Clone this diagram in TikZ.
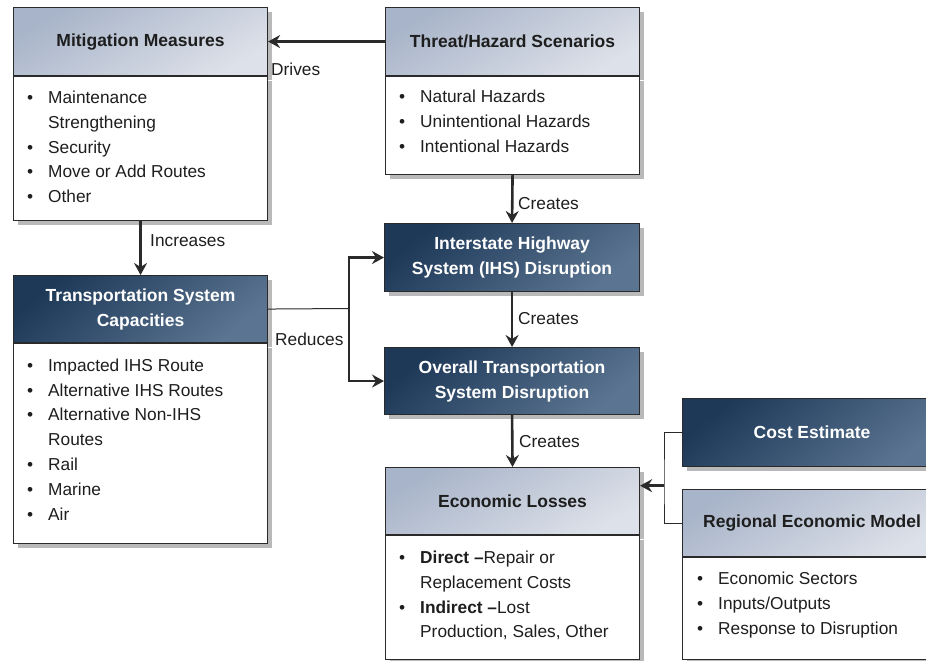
\documentclass[tikz,border=0pt]{standalone}
\usepackage{fontspec}
\setmainfont{Liberation Sans}
\usetikzlibrary{arrows.meta,shadows,calc}

\definecolor{edge}{HTML}{2A2A2A}
\definecolor{shadowgray}{HTML}{B9B9B9}
\definecolor{lighttop}{HTML}{A8B4C9}
\definecolor{lightbot}{HTML}{DDE1E9}
\definecolor{darktop}{HTML}{1E3958}
\definecolor{darkbot}{HTML}{5A7491}
\definecolor{ink}{HTML}{1E1E1E}

\newcommand{\bodyfont}{\fontsize{17.3pt}{24.8pt}\selectfont}
\newcommand{\titlefont}{\fontsize{17.5pt}{25pt}\selectfont\bfseries}
% bulleted lines and their continuation lines
\newcommand{\bitem}[1]{\hbox{\makebox[21pt][l]{\textbullet}#1}}
\newcommand{\bcont}[1]{\hbox{\hspace*{21pt}#1}}
\newcommand{\blist}[1]{\vtop{\baselineskip=24.8pt\lineskiplimit=0pt #1}}

\begin{document}
\begin{tikzpicture}[x=1pt,y=-1pt,
  boxshadow/.style={drop shadow={shadow xshift=4pt,shadow yshift=-4pt,fill=shadowgray,opacity=1}},
  lighthead/.style={draw=edge,line width=1.1pt,top color=lighttop,bottom color=lightbot,
    shading angle=30,inner sep=0pt,anchor=north west,font=\titlefont,text=ink,
    align=center,boxshadow},
  darkhead/.style={draw=edge,line width=1.1pt,top color=darktop,bottom color=darkbot,
    shading angle=40,inner sep=0pt,anchor=north west,font=\titlefont,text=white,
    align=center,boxshadow},
  bodybox/.style={draw=edge,line width=1.1pt,fill=white,inner sep=0pt,
    anchor=north west,boxshadow},
  listtext/.style={anchor=base west,inner sep=0pt,font=\bodyfont,text=ink},
  lbl/.style={anchor=base west,inner sep=0pt,font=\bodyfont,text=ink},
  arr/.style={draw=edge,line width=2.6pt,line join=miter,
    -{Stealth[length=12pt,width=13pt,inset=4pt]}},
  thinline/.style={draw=edge,line width=1pt}]

\useasboundingbox (0,0) rectangle (926,661);
\clip (0,0) rectangle (926,661);

% Mitigation Measures
\node[lighthead,minimum width=254pt,minimum height=68pt] (mmH) at (13,7) {Mitigation Measures};
\node[bodybox,minimum width=254pt,minimum height=144pt] (mmB) at (mmH.south west) {};
\node[listtext] (mmL) at (27,103.5) {\blist{\bitem{Maintenance}\bcont{Strengthening}\bitem{Security}\bitem{Move or Add Routes}\bitem{Other}}};

% Threat/Hazard Scenarios
\node[lighthead,minimum width=254pt,minimum height=68pt] (thH) at (385,7) {Threat/Hazard Scenarios};
\node[bodybox,minimum width=254pt,minimum height=98pt] (thB) at (thH.south west) {};
\node[listtext] (thL) at (399,102.7) {\blist{\bitem{Natural Hazards}\bitem{Unintentional Hazards}\bitem{Intentional Hazards}}};

% Transportation System Capacities
\node[darkhead,minimum width=254pt,minimum height=67pt] (tscH) at (13,275) {Transportation System\\Capacities};
\node[bodybox,minimum width=254pt,minimum height=200pt] (tscB) at (tscH.south west) {};
\node[listtext] (tscL) at (27,371.2) {\blist{\bitem{Impacted IHS Route}\bitem{Alternative IHS Routes}\bitem{Alternative Non-IHS}\bcont{Routes}\bitem{Rail}\bitem{Marine}\bitem{Air}}};

% Disruption boxes
\node[darkhead,minimum width=255pt,minimum height=68pt] (ihs) at (384,223) {Interstate Highway\\System (IHS) Disruption};
\node[darkhead,minimum width=255pt,minimum height=67pt] (ots) at (384,347) {Overall Transportation\\System Disruption};

% Economic Losses
\node[lighthead,minimum width=254pt,minimum height=67pt] (elH) at (385,467) {Economic Losses};
\node[bodybox,minimum width=254pt,minimum height=124pt] (elB) at (elH.south west) {};
\node[listtext] (elL) at (399,563.5) {\blist{\bitem{\textbf{Direct –}Repair or}\bcont{Replacement Costs}\bitem{\textbf{Indirect –}Lost}\bcont{Production, Sales, Other}}};

% Cost Estimate and Regional Economic Model
\node[darkhead,minimum width=259pt,minimum height=68pt] (ce) at (682,398) {Cost Estimate};
\node[lighthead,minimum width=259pt,minimum height=67pt] (remH) at (682,489) {Regional Economic Model};
\node[bodybox,minimum width=259pt,minimum height=102pt] (remB) at (remH.south west) {};
\node[listtext] (remL) at (697,584.8) {\blist{\bitem{Economic Sectors}\bitem{Inputs/Outputs}\bitem{Response to Disruption}}};

% connectors
\draw[arr] (thH.west) -- (mmH.east);
\node[lbl] (drives) at (271,76) {Drives};

\draw[arr] (thB.south) -- (ihs.north);
\node[lbl] (cr1) at (518,209.3) {Creates};

\draw[arr] (ihs.south) -- (ots.north);
\node[lbl] (cr2) at (518,324) {Creates};

\draw[arr] (ots.south) -- (elH.north);
\node[lbl] (cr3) at (519,447.3) {Creates};

\draw[arr] (mmB.south) -- (tscH.north);
\node[lbl] (incr) at (150,246.7) {Increases};

\coordinate (jr) at (349,308.5);
\draw[thinline] (tscH.east) -- (jr);
\draw[arr] (jr) |- (ihs.west);
\draw[arr] (jr) |- (ots.west);
\node[lbl] (red) at (275,345.7) {Reduces};

\coordinate (jc) at (664,485.7);
\draw[thinline] (ce.west) -| (jc) |- (remH.west);
\draw[arr] (jc) -- (jc -| elH.east);
\end{tikzpicture}
\end{document}
